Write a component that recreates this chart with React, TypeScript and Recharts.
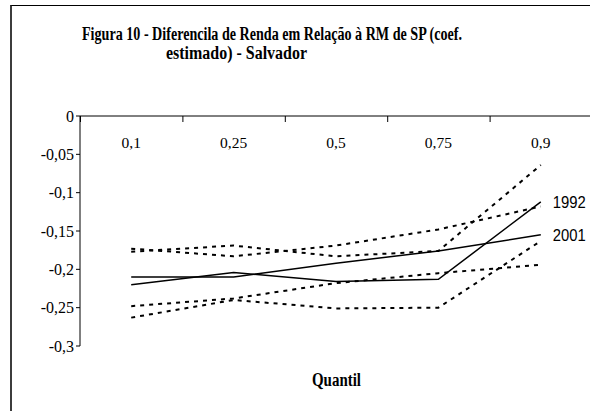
import React from "react";
import { LineChart, Line, XAxis, YAxis, LabelList } from "recharts";

// quantis e coeficientes estimados
const quantis = ["0,1", "0,25", "0,5", "0,75", "0,9"];
const coef1992 = [-0.22, -0.204, -0.216, -0.213, -0.112];
const coef2001 = [-0.21, -0.21, -0.192, -0.176, -0.155];
const sup1992 = [-0.177, -0.169, -0.183, -0.176, -0.064];
const inf1992 = [-0.263, -0.24, -0.251, -0.25, -0.163];
const sup2001 = [-0.173, -0.183, -0.169, -0.148, -0.118];
const inf2001 = [-0.248, -0.238, -0.218, -0.205, -0.194];
const yTicks = [0, -0.05, -0.1, -0.15, -0.2, -0.25, -0.3];

const data = quantis.map((q, i) => ({
  q,
  c1992: coef1992[i],
  c2001: coef2001[i],
  s1992: sup1992[i],
  i1992: inf1992[i],
  s2001: sup2001[i],
  i2001: inf2001[i],
}));

const serif = "'Liberation Serif', 'Times New Roman', serif";
const sans = "'Liberation Sans', Arial, sans-serif";

const W = 600;
const H = 411;
const M = { top: 116, right: 8, bottom: 65, left: 0 };
const Y_W = 80;
const PLOT_X = M.left + Y_W;
const BAND = (W - M.left - M.right - Y_W) / quantis.length;
// divisões entre categorias no eixo (marcas para dentro, estilo Excel)
const bandEdges = Array.from({ length: quantis.length + 1 }, (_, i) => PLOT_X + i * BAND);

const endLabel = (text: string) => (props: any) => {
  if (props.index !== quantis.length - 1) return null;
  const x = props.x ?? props.viewBox?.x;
  const y = props.y ?? props.viewBox?.y;
  return (
    <text
      x={x + 12}
      y={y + 6.5}
      fontFamily={sans}
      fontSize={17}
      textLength={33}
      lengthAdjust="spacingAndGlyphs"
      fill="#000"
    >
      {text}
    </text>
  );
};

const App = () => (
  <div
    style={{
      position: "fixed",
      left: 0,
      top: 0,
      width: 590,
      height: 411,
      overflow: "hidden",
      background: "#fff",
    }}
  >
    <div
      style={{
        position: "absolute",
        left: 10,
        top: 5,
        width: 600,
        height: 420,
        borderLeft: "2px solid #3c3c3c",
        borderTop: "1px solid #000",
      }}
    />
    <div style={{ position: "absolute", left: 0, top: 0 }}>
      <LineChart width={W} height={H} data={data} margin={M}>
        <XAxis
          dataKey="q"
          scale="band"
          orientation="top"
          mirror
          height={1}
          tickLine={false}
          tickSize={0}
          tickMargin={21}
          axisLine={{ stroke: "#000", strokeWidth: 1 }}
          tick={{ fontFamily: serif, fontSize: 15.5, fill: "#000" }}
          interval={0}
        />
        <YAxis
          width={Y_W}
          domain={[-0.3, 0]}
          ticks={yTicks}
          interval={0}
          tickSize={4}
          tickMargin={2}
          axisLine={{ stroke: "#000", strokeWidth: 1 }}
          tickLine={{ stroke: "#000", strokeWidth: 1 }}
          tick={{ fontFamily: serif, fontSize: 16, fill: "#000" }}
          tickFormatter={(v: number) => String(v).replace(".", ",")}
        />
        <Line dataKey="s1992" stroke="#000" strokeWidth={2} strokeDasharray="4 5" dot={false} isAnimationActive={false} />
        <Line dataKey="i1992" stroke="#000" strokeWidth={2} strokeDasharray="4 5" dot={false} isAnimationActive={false} />
        <Line dataKey="s2001" stroke="#000" strokeWidth={2} strokeDasharray="4 5" dot={false} isAnimationActive={false} />
        <Line dataKey="i2001" stroke="#000" strokeWidth={2} strokeDasharray="4 5" dot={false} isAnimationActive={false} />
        <Line dataKey="c1992" stroke="#000" strokeWidth={1.5} dot={false} isAnimationActive={false}>
          <LabelList dataKey="c1992" content={endLabel("1992")} />
        </Line>
        <Line dataKey="c2001" stroke="#000" strokeWidth={1.5} dot={false} isAnimationActive={false}>
          <LabelList dataKey="c2001" content={endLabel("2001")} />
        </Line>
      </LineChart>
    </div>
    <svg
      width={590}
      height={411}
      style={{ position: "absolute", left: 0, top: 0, pointerEvents: "none" }}
    >
      {bandEdges.map((x) => (
        <line key={x} x1={x + 0.5} x2={x + 0.5} y1={M.top} y2={M.top + 6} stroke="#000" strokeWidth={1} />
      ))}
      <text x={82} y={40} fontFamily={serif} fontWeight="bold" fontSize={18} textLength={380} lengthAdjust="spacingAndGlyphs" fill="#000">
        Figura 10 - Diferencila de Renda em Relação à RM de SP (coef.
      </text>
      <text x={166} y={59} fontFamily={serif} fontWeight="bold" fontSize={18} textLength={141} lengthAdjust="spacingAndGlyphs" fill="#000">
        estimado) - Salvador
      </text>
      <text x={312} y={386} fontFamily={serif} fontWeight="bold" fontSize={18} textLength={49} lengthAdjust="spacingAndGlyphs" fill="#000">
        Quantil
      </text>
    </svg>
  </div>
);

export default App;
